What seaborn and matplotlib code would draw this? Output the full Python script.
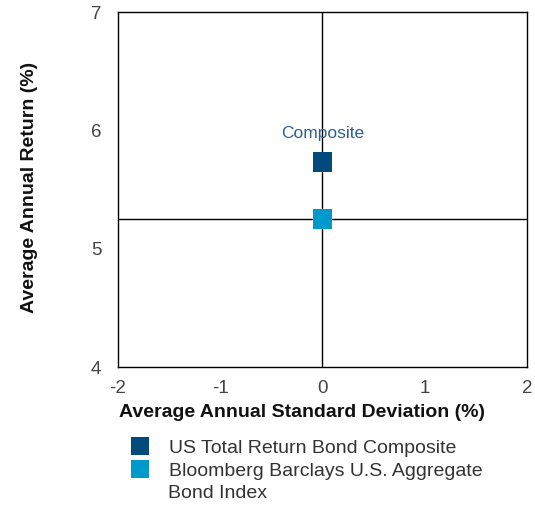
import pandas as pd
import matplotlib.pyplot as plt
import seaborn as sns

# values
names = ['US Total Return Bond Composite',
         'Bloomberg Barclays U.S. Aggregate Bond Index']
legend_lines = ['US Total Return Bond Composite',
                'Bloomberg Barclays U.S. Aggregate']
std_dev = [0.0, 0.0]
returns = [5.73, 5.25]
colors = ['#004a7c', '#0099cc']
x_ticks = [-2, -1, 0, 1, 2]
y_ticks = [4, 5, 6, 7]

df = pd.DataFrame({'name': names, 'std': std_dev, 'ret': returns})

sns.set_style('white')
plt.rcParams['font.family'] = ['Liberation Sans', 'DejaVu Sans']
plt.rcParams['axes.unicode_minus'] = False

fig = plt.figure(figsize=(5.35, 5.11), dpi=100)
ax = fig.add_axes([0.2206, 0.2818, 0.7644, 0.6947])

# crosshair at the index point
ax.axvline(std_dev[1], color='black', lw=1, zorder=1)
ax.axhline(returns[1], color='black', lw=1, zorder=1)

sns.scatterplot(data=df, x='std', y='ret', hue='name', palette=colors,
                marker='s', s=205, linewidth=0, ax=ax, zorder=3)

ax.annotate('Composite', (std_dev[0], returns[0]), xytext=(0, 15),
            textcoords='offset points', ha='center', va='bottom',
            color='#2b6190', fontsize=12.5)

ax.set_xlim(-2, 2)
ax.set_ylim(4, 7)
ax.set_xticks(x_ticks)
ax.set_yticks(y_ticks)
ax.tick_params(axis='both', length=0, labelsize=13.5, labelcolor='#444444')
ax.tick_params(axis='y', pad=12)
ax.tick_params(axis='x', pad=9)
for s in ax.spines.values():
    s.set_color('black')
    s.set_linewidth(1)

ax.set_xlabel('Average Annual Standard Deviation (%)', fontsize=14,
              fontweight='bold', color='#111111')
ax.set_ylabel('Average Annual Return (%)', fontsize=14,
              fontweight='bold', color='#111111')
ax.xaxis.set_label_coords(0.45, -0.104)
ax.yaxis.set_label_coords(-0.196, 0.505)

sns.move_legend(ax, loc='upper left', bbox_to_anchor=(0.226, 0.140),
                bbox_transform=fig.transFigure, title=None, frameon=False,
                fontsize=14, handletextpad=0.45, labelspacing=0.25,
                borderaxespad=0, borderpad=0, markerscale=0.9)
leg = ax.get_legend()
for t, lab in zip(leg.get_texts(), legend_lines):
    t.set_text(lab)
    t.set_color('#333333')
# wrapped remainder of the second legend label
fig.text(168 / 535, 1 - 493 / 511, 'Bond Index', fontsize=14,
         color='#333333', va='center', ha='left')

fig.savefig('out.png', dpi=100)
